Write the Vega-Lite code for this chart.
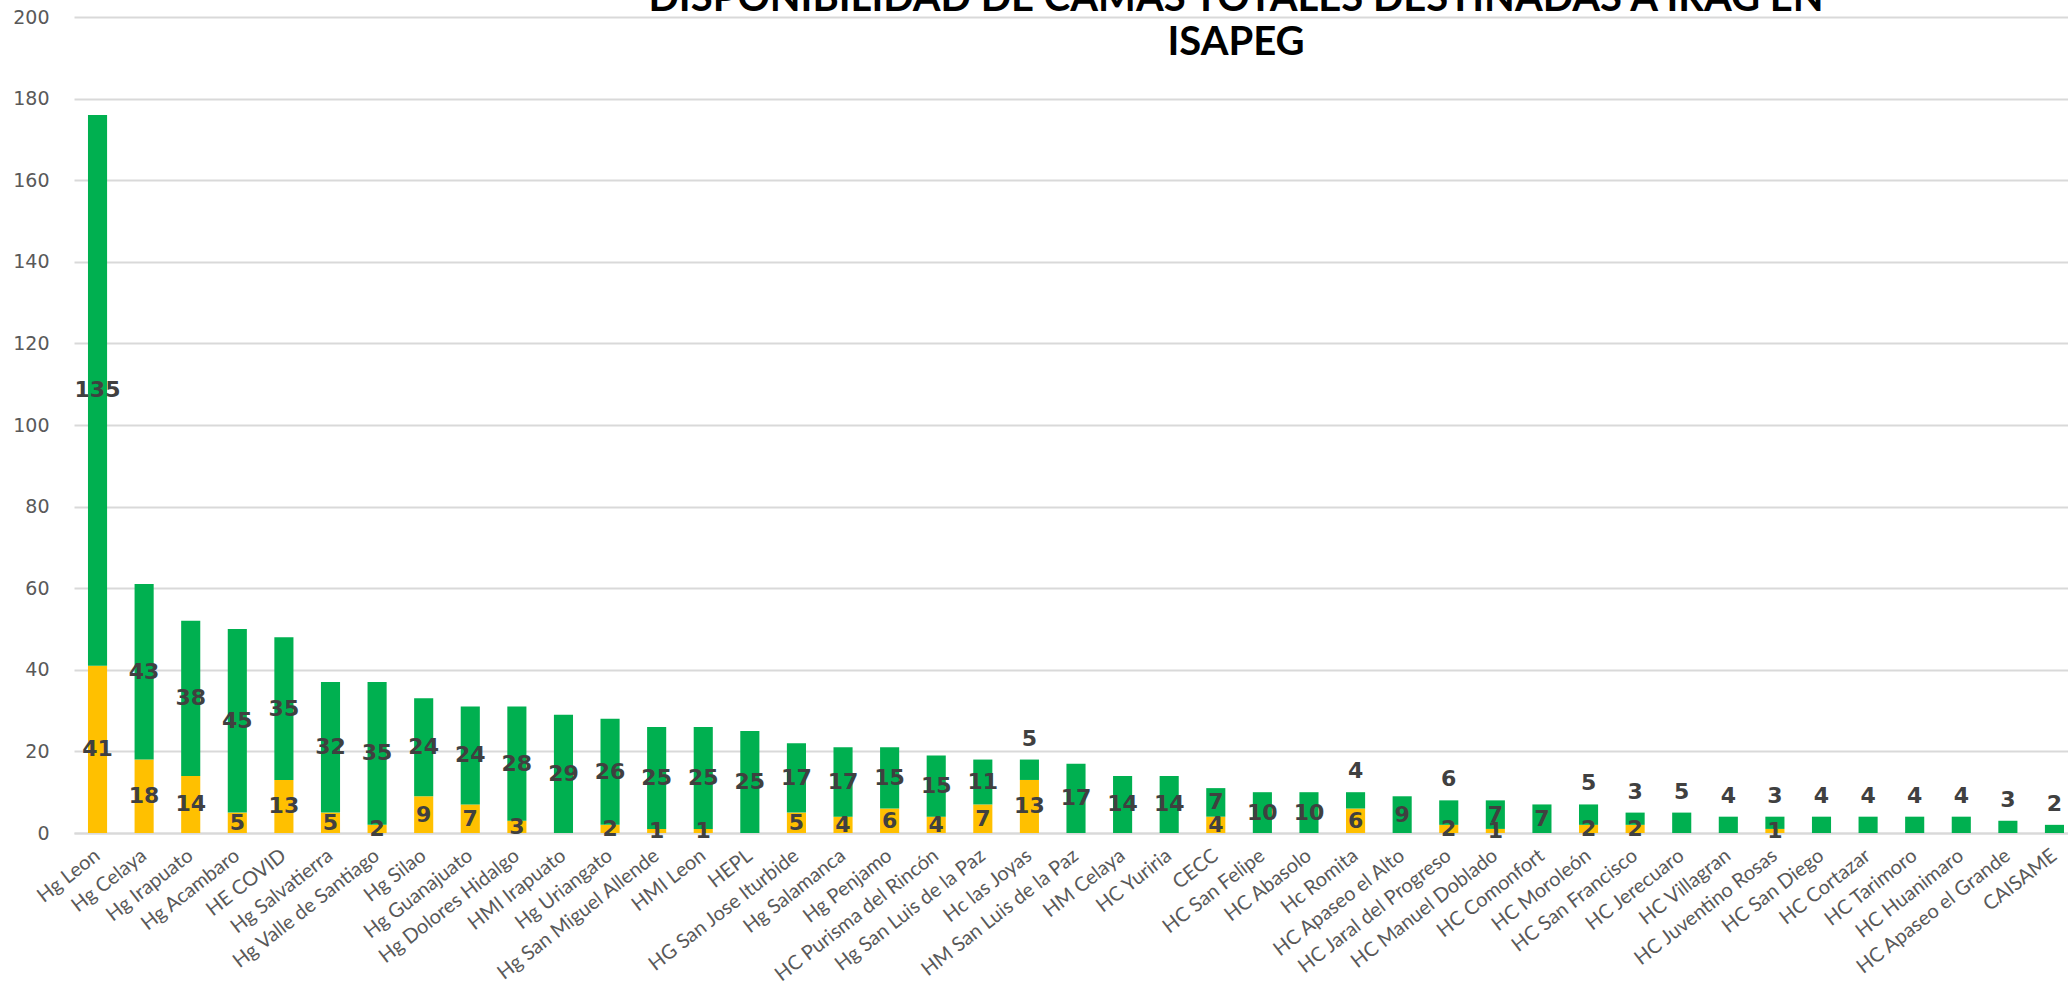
{
  "$schema": "https://vega.github.io/schema/vega-lite/v6.json",
  "autosize": {"type": "none"},
  "padding": {"left": 74, "top": 17, "right": 0, "bottom": 156},
  "width": 2004,
  "height": 816,
  "background": "white",
  "title": {
    "text": ["DISPONIBILIDAD DE CAMAS TOTALES DESTINADAS A IRAG EN", "ISAPEG"],
    "font": "Lato",
    "fontSize": 40,
    "fontWeight": "bold",
    "color": "#000000",
    "lineHeight": 44,
    "anchor": "middle",
    "frame": "group",
    "offset": -55,
    "dx": 160
  },
  "data": {
    "values": [
      {"hospital": "Hg Leon", "tipo": "Ocupadas", "camas": 41},
      {"hospital": "Hg Leon", "tipo": "Disponibles", "camas": 135},
      {"hospital": "Hg Celaya", "tipo": "Ocupadas", "camas": 18},
      {"hospital": "Hg Celaya", "tipo": "Disponibles", "camas": 43},
      {"hospital": "Hg Irapuato", "tipo": "Ocupadas", "camas": 14},
      {"hospital": "Hg Irapuato", "tipo": "Disponibles", "camas": 38},
      {"hospital": "Hg Acambaro", "tipo": "Ocupadas", "camas": 5},
      {"hospital": "Hg Acambaro", "tipo": "Disponibles", "camas": 45},
      {"hospital": "HE COVID", "tipo": "Ocupadas", "camas": 13},
      {"hospital": "HE COVID", "tipo": "Disponibles", "camas": 35},
      {"hospital": "Hg Salvatierra", "tipo": "Ocupadas", "camas": 5},
      {"hospital": "Hg Salvatierra", "tipo": "Disponibles", "camas": 32},
      {"hospital": "Hg Valle de Santiago", "tipo": "Ocupadas", "camas": 2},
      {"hospital": "Hg Valle de Santiago", "tipo": "Disponibles", "camas": 35},
      {"hospital": "Hg Silao", "tipo": "Ocupadas", "camas": 9},
      {"hospital": "Hg Silao", "tipo": "Disponibles", "camas": 24},
      {"hospital": "Hg Guanajuato", "tipo": "Ocupadas", "camas": 7},
      {"hospital": "Hg Guanajuato", "tipo": "Disponibles", "camas": 24},
      {"hospital": "Hg Dolores Hidalgo", "tipo": "Ocupadas", "camas": 3},
      {"hospital": "Hg Dolores Hidalgo", "tipo": "Disponibles", "camas": 28},
      {"hospital": "HMI Irapuato", "tipo": "Disponibles", "camas": 29},
      {"hospital": "Hg Uriangato", "tipo": "Ocupadas", "camas": 2},
      {"hospital": "Hg Uriangato", "tipo": "Disponibles", "camas": 26},
      {"hospital": "Hg San Miguel Allende", "tipo": "Ocupadas", "camas": 1},
      {"hospital": "Hg San Miguel Allende", "tipo": "Disponibles", "camas": 25},
      {"hospital": "HMI Leon", "tipo": "Ocupadas", "camas": 1},
      {"hospital": "HMI Leon", "tipo": "Disponibles", "camas": 25},
      {"hospital": "HEPL", "tipo": "Disponibles", "camas": 25},
      {"hospital": "HG San Jose Iturbide", "tipo": "Ocupadas", "camas": 5},
      {"hospital": "HG San Jose Iturbide", "tipo": "Disponibles", "camas": 17},
      {"hospital": "Hg Salamanca", "tipo": "Ocupadas", "camas": 4},
      {"hospital": "Hg Salamanca", "tipo": "Disponibles", "camas": 17},
      {"hospital": "Hg Penjamo", "tipo": "Ocupadas", "camas": 6},
      {"hospital": "Hg Penjamo", "tipo": "Disponibles", "camas": 15},
      {"hospital": "HC Purisma del Rincón", "tipo": "Ocupadas", "camas": 4},
      {"hospital": "HC Purisma del Rincón", "tipo": "Disponibles", "camas": 15},
      {"hospital": "Hg San Luis de la Paz", "tipo": "Ocupadas", "camas": 7},
      {"hospital": "Hg San Luis de la Paz", "tipo": "Disponibles", "camas": 11},
      {"hospital": "Hc las Joyas", "tipo": "Ocupadas", "camas": 13},
      {"hospital": "Hc las Joyas", "tipo": "Disponibles", "camas": 5},
      {"hospital": "HM San Luis de la Paz", "tipo": "Disponibles", "camas": 17},
      {"hospital": "HM Celaya", "tipo": "Disponibles", "camas": 14},
      {"hospital": "HC Yuriria", "tipo": "Disponibles", "camas": 14},
      {"hospital": "CECC", "tipo": "Ocupadas", "camas": 4},
      {"hospital": "CECC", "tipo": "Disponibles", "camas": 7},
      {"hospital": "HC San Felipe", "tipo": "Disponibles", "camas": 10},
      {"hospital": "HC Abasolo", "tipo": "Disponibles", "camas": 10},
      {"hospital": "Hc Romita", "tipo": "Ocupadas", "camas": 6},
      {"hospital": "Hc Romita", "tipo": "Disponibles", "camas": 4},
      {"hospital": "HC Apaseo el Alto", "tipo": "Disponibles", "camas": 9},
      {"hospital": "HC Jaral del Progreso", "tipo": "Ocupadas", "camas": 2},
      {"hospital": "HC Jaral del Progreso", "tipo": "Disponibles", "camas": 6},
      {"hospital": "HC Manuel Doblado", "tipo": "Ocupadas", "camas": 1},
      {"hospital": "HC Manuel Doblado", "tipo": "Disponibles", "camas": 7},
      {"hospital": "HC Comonfort", "tipo": "Disponibles", "camas": 7},
      {"hospital": "HC Moroleón", "tipo": "Ocupadas", "camas": 2},
      {"hospital": "HC Moroleón", "tipo": "Disponibles", "camas": 5},
      {"hospital": "HC San Francisco", "tipo": "Ocupadas", "camas": 2},
      {"hospital": "HC San Francisco", "tipo": "Disponibles", "camas": 3},
      {"hospital": "HC Jerecuaro", "tipo": "Disponibles", "camas": 5},
      {"hospital": "HC Villagran", "tipo": "Disponibles", "camas": 4},
      {"hospital": "HC Juventino Rosas", "tipo": "Ocupadas", "camas": 1},
      {"hospital": "HC Juventino Rosas", "tipo": "Disponibles", "camas": 3},
      {"hospital": "HC San Diego", "tipo": "Disponibles", "camas": 4},
      {"hospital": "HC Cortazar", "tipo": "Disponibles", "camas": 4},
      {"hospital": "HC Tarimoro", "tipo": "Disponibles", "camas": 4},
      {"hospital": "HC Huanimaro", "tipo": "Disponibles", "camas": 4},
      {"hospital": "HC Apaseo el Grande", "tipo": "Disponibles", "camas": 3},
      {"hospital": "CAISAME", "tipo": "Disponibles", "camas": 2}
    ]
  },
  "encoding": {
    "x": {
      "field": "hospital",
      "type": "nominal",
      "sort": null,
      "title": null,
      "scale": {"paddingInner": 0.59, "paddingOuter": 0.3},
      "axis": {
        "labelAngle": -38,
        "labelFont": "Lato",
        "labelFontSize": 20,
        "labelColor": "#595959",
        "labelBaseline": "middle",
        "labelAlign": "right",
        "labelPadding": 20,
        "ticks": false,
        "domainColor": "#d9d9d9",
        "domainWidth": 2,
        "labelOverlap": false,
        "labelLimit": 400
      }
    }
  },
  "layer": [
    {
      "mark": {"type": "bar"},
      "encoding": {
        "y": {
          "field": "camas",
          "type": "quantitative",
          "stack": "zero",
          "title": null,
          "scale": {"domain": [0, 200], "nice": false},
          "axis": {
            "values": [0, 20, 40, 60, 80, 100, 120, 140, 160, 180, 200],
            "labelFont": "DejaVu Sans",
            "labelFontSize": 19,
            "labelColor": "#595959",
            "labelPadding": 25,
            "ticks": false,
            "domain": false,
            "gridColor": "#d9d9d9",
            "gridWidth": 2
          }
        },
        "color": {
          "field": "tipo",
          "type": "nominal",
          "legend": null,
          "scale": {"domain": ["Ocupadas", "Disponibles"], "range": ["#FFC000", "#00B050"]}
        },
        "order": {"field": "tipo", "sort": "descending"}
      }
    },
    {
      "mark": {"type": "text", "font": "DejaVu Sans", "fontSize": 22, "fontWeight": "bold", "color": "#404040", "baseline": "middle", "align": "center"},
      "encoding": {
        "y": {"field": "camas", "type": "quantitative", "stack": "zero", "bandPosition": 0.5},
        "detail": {"field": "tipo", "type": "nominal"},
        "order": {"field": "tipo", "sort": "descending"},
        "text": {
          "field": "camas",
          "type": "quantitative",
          "condition": {"test": "datum.tipo === 'Disponibles' && datum.camas <= 6", "value": ""}
        }
      }
    },
    {
      "mark": {"type": "text", "font": "DejaVu Sans", "fontSize": 22, "fontWeight": "bold", "color": "#404040", "baseline": "middle", "align": "center", "dy": -21},
      "encoding": {
        "y": {"field": "camas", "type": "quantitative", "stack": "zero"},
        "detail": {"field": "tipo", "type": "nominal"},
        "order": {"field": "tipo", "sort": "descending"},
        "text": {
          "field": "camas",
          "type": "quantitative",
          "condition": {"test": "datum.tipo === 'Ocupadas' || datum.camas > 6", "value": ""}
        }
      }
    }
  ],
  "config": {
    "view": {"stroke": null}
  }
}
